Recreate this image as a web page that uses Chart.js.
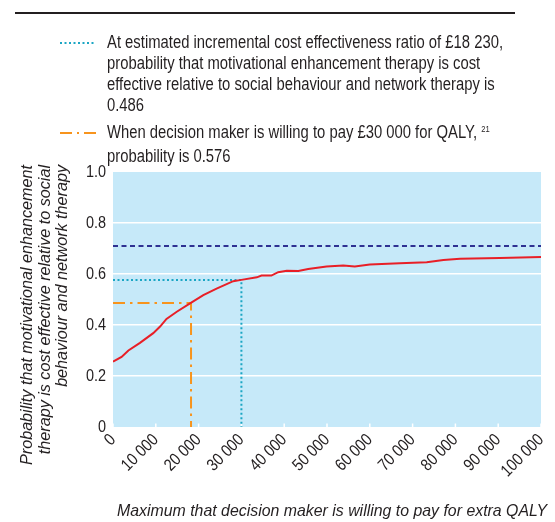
<!DOCTYPE html>
<html><head><meta charset="utf-8">
<script src="https://cdn.jsdelivr.net/npm/chart.js@4/dist/chart.umd.min.js"></script>
<style>
html,body{margin:0;padding:0;background:#fff;}
body{width:555px;height:522px;position:relative;overflow:hidden;font-family:"Liberation Sans",Arial,sans-serif;color:#231f20;}
#rule{position:absolute;left:15px;top:12px;width:500px;height:2px;background:#231f20;}
.item{position:absolute;left:107px;font-size:17.5px;line-height:21px;white-space:nowrap;transform-origin:0 0;}
.item sup{font-size:9px;vertical-align:0;position:relative;top:-6px;}
.sample{position:absolute;left:59px;}
canvas{position:absolute;left:0;top:0;}
</style></head>
<body>
<canvas id="c" width="555" height="522"></canvas>
<div id="rule"></div>
<svg class="sample" style="top:38px" width="38" height="10"><line x1="1" y1="5" x2="37" y2="5" stroke="#1ba6c4" stroke-width="2" stroke-dasharray="2 2.5"/></svg>
<div class="item" style="top:32px"><span id="l1">At estimated incremental cost effectiveness ratio of £18 230,</span><br>probability that motivational enhancement therapy is cost<br>effective relative to social behaviour and network therapy is<br>0.486</div>
<svg class="sample" style="top:128px" width="38" height="10"><line x1="1" y1="5" x2="37" y2="5" stroke="#f7941d" stroke-width="2" stroke-dasharray="12 5 2 5"/></svg>
<div class="item" style="top:122px">When decision maker is willing to pay £30 000 for QALY, <sup>21</sup><br>probability is 0.576</div>
<script>
// ---- data ----
const wtp = [0, 2000, 3600, 6300, 9400, 11000, 12500, 14900, 18000, 21100, 24200, 28100, 30000, 33600, 34700, 37000, 38600, 40600, 43300, 45600, 49900, 53800, 56500, 60000, 67000, 73300, 77200, 81100, 90400, 100000];
const prob = [0.256, 0.275, 0.300, 0.330, 0.368, 0.394, 0.424, 0.452, 0.485, 0.517, 0.543, 0.572, 0.577, 0.587, 0.594, 0.594, 0.607, 0.613, 0.612, 0.620, 0.629, 0.633, 0.629, 0.637, 0.642, 0.646, 0.655, 0.660, 0.663, 0.667];
const icerX = [0, 18230, 18230];
const icerY = [0.486, 0.486, 0];
const payX = [0, 30000, 30000];
const payY = [0.576, 0.576, 0];
const upperX = [0, 100000];
const upperY = [0.71, 0.71];
const xTicks = [0, 10000, 20000, 30000, 40000, 50000, 60000, 70000, 80000, 90000, 100000];
const yTicks = [0, 0.2, 0.4, 0.6, 0.8, 1.0];
const xTitle = 'Maximum that decision maker is willing to pay for extra QALY';
const yTitle = ['Probability that motivational enhancement', 'therapy is cost effective relative to social', 'behaviour and network therapy'];

// ---- legend condensing (HTML text, Helvetica-condensed look) ----
(function () {
  const w = document.getElementById('l1').getBoundingClientRect().width;
  const s = 396 / w;
  document.querySelectorAll('.item').forEach(el => el.style.transform = 'scaleX(' + s + ')');
})();

const pts = (xs, ys) => xs.map((x, i) => ({x, y: ys[i]}));
const FAM = '"Liberation Sans",Arial,sans-serif';
const TXT = '#231f20';
const SX = 0.85;
const nativeFill = CanvasRenderingContext2D.prototype.fillText;
const fmt = v => v === 0 ? '0' : String(v).replace(/\B(?=(\d{3})+(?!\d))/g, ' ');

const condense = {
  id: 'condense',
  beforeInit(chart) {
    const ctx = chart.ctx;
    ctx.fillText = function (t, x, y, mw) {
      this.save();
      this.translate(x, y);
      this.scale(SX, 1);
      if (mw !== undefined) nativeFill.call(this, t, 0, 0, mw / SX); else nativeFill.call(this, t, 0, 0);
      this.restore();
    };
  }
};

const bgPlugin = {
  id: 'bg',
  beforeDraw(chart) {
    const {ctx, chartArea: a} = chart;
    ctx.save();
    ctx.fillStyle = '#c6e9f9';
    ctx.fillRect(a.left, a.top, a.right - a.left, a.bottom - a.top);
    ctx.restore();
  },
  beforeDatasetsDraw(chart) {
    const {ctx, chartArea: a, scales} = chart;
    ctx.save();
    ctx.strokeStyle = '#ffffff';
    ctx.lineWidth = 1.5;
    xTicks.forEach(v => {
      const px = scales.x.getPixelForValue(v);
      ctx.beginPath();
      ctx.moveTo(px, a.bottom - 3.5);
      ctx.lineTo(px, a.bottom);
      ctx.stroke();
    });
    ctx.restore();
  },
  afterDraw(chart) {
    const {ctx, chartArea: a} = chart;
    ctx.save();
    ctx.fillStyle = TXT;
    ctx.font = 'italic 17px ' + FAM;
    ctx.textBaseline = 'alphabetic';
    ctx.textAlign = 'right';
    // x-axis title
    let sx = 430 / ctx.measureText(xTitle).width;
    ctx.save();
    ctx.translate(a.right + 6, 516);
    ctx.scale(sx, 1);
    nativeFill.call(ctx, xTitle, 0, 0);
    ctx.restore();
    // y-axis title (lines end-aligned at the top)
    const sy = 300 / ctx.measureText(yTitle[0]).width;
    const base = [a.left - 81, a.left - 63.5, a.left - 46];
    yTitle.forEach((t, i) => {
      ctx.save();
      ctx.translate(base[i], a.top - 7);
      ctx.rotate(-Math.PI / 2);
      ctx.scale(sy, 1);
      nativeFill.call(ctx, t, 0, 0);
      ctx.restore();
    });
    ctx.restore();
  }
};

new Chart(document.getElementById('c'), {
  type: 'line',
  data: {
    datasets: [
      {data: pts(wtp, prob), borderColor: '#e81f27', borderWidth: 2, pointRadius: 0, tension: 0},
      {data: pts(icerX, icerY), borderColor: '#f7941d', borderWidth: 2, pointRadius: 0, borderDash: [12, 5, 2.5, 5]},
      {data: pts(payX, payY), borderColor: '#1ba6c4', borderWidth: 2, pointRadius: 0, borderDash: [2, 2.5]},
      {data: pts(upperX, upperY), borderColor: '#2e3192', borderWidth: 2, pointRadius: 0, borderDash: [5, 3.5]}
    ]
  },
  options: {
    responsive: false,
    animation: false,
    devicePixelRatio: 1,
    layout: {padding: {top: 172, right: 14, left: 0, bottom: 0}},
    plugins: {legend: {display: false}, tooltip: {enabled: false}},
    scales: {
      x: {
        type: 'linear', min: 0, max: 100000,
        border: {display: false},
        grid: {display: false, drawTicks: false},
        afterBuildTicks(s) { s.ticks = xTicks.map(v => ({value: v})); },
        ticks: {autoSkip: false, minRotation: 45, maxRotation: 45, padding: 3, color: TXT,
                font: {family: FAM, size: 17}, callback: v => fmt(v)},
        title: {display: false},
        afterFit(s) { s.height = 95; s.paddingRight = 0; s.paddingLeft = 0; }
      },
      y: {
        min: 0, max: 1,
        border: {display: false},
        grid: {drawTicks: false, lineWidth: 1.5,
               color: c => (c.tick && (c.tick.value === 0 || c.tick.value === 1)) ? 'rgba(0,0,0,0)' : '#ffffff'},
        afterBuildTicks(s) { s.ticks = yTicks.map(v => ({value: v})); },
        ticks: {padding: 7, color: TXT, font: {family: FAM, size: 17},
                callback: v => v === 0 ? '0' : v.toFixed(1)},
        title: {display: false},
        afterFit(s) { s.width = 113; s.paddingTop = 0; s.paddingBottom = 0; }
      }
    }
  },
  plugins: [condense, bgPlugin]
});
</script>
</body></html>
